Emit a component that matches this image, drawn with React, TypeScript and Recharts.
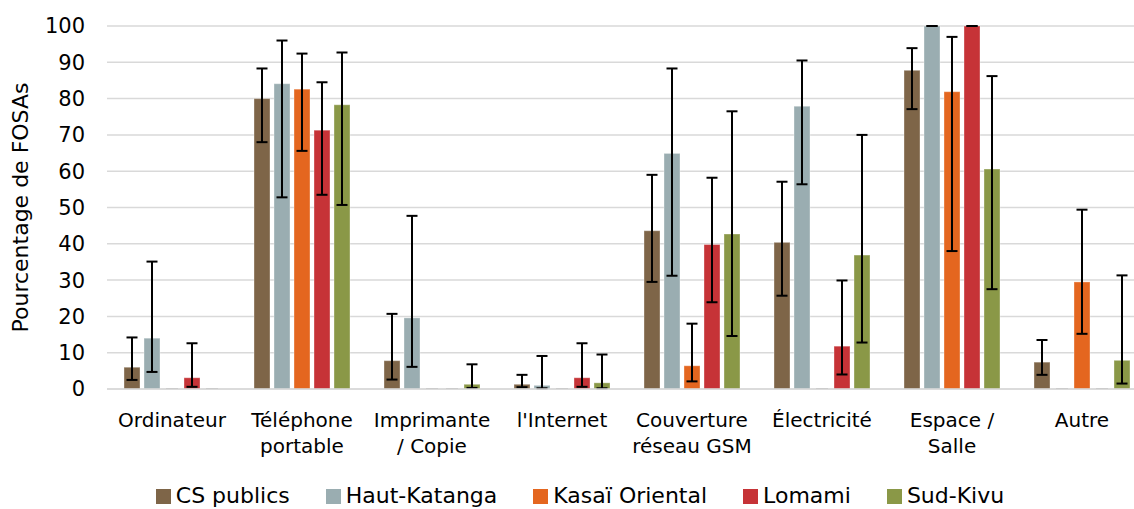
import React from "react";
import { BarChart, Bar, XAxis, YAxis, CartesianGrid, ErrorBar, Legend, Label } from "recharts";

const categories = [
  "Ordinateur",
  "Téléphone\nportable",
  "Imprimante\n/ Copie",
  "l'Internet",
  "Couverture\nréseau GSM",
  "Électricité",
  "Espace /\nSalle",
  "Autre",
];

const seriesNames = ["CS publics", "Haut-Katanga", "Kasaï Oriental", "Lomami", "Sud-Kivu"];
const seriesColors = ["#7E6548", "#9AADB1", "#E4661F", "#C63337", "#8A9847"];

// values (%)
const csPublics = [6.0, 80.0, 7.8, 1.3, 43.6, 40.4, 87.8, 7.4];
const hautKatanga = [14.0, 84.1, 19.6, 1.0, 64.9, 77.9, 100, 0];
const kasaiOriental = [0, 82.6, 0, 0, 6.4, 0, 81.9, 29.5];
const lomami = [3.1, 71.3, 0, 3.1, 39.8, 11.8, 100, 0];
const sudKivu = [0, 78.3, 1.3, 1.7, 42.7, 36.9, 60.6, 7.9];

// lower / upper bounds of confidence intervals (null = none)
const csPublicsLow = [2.5, 68.0, 2.6, 0.5, 29.5, 25.7, 77.1, 3.9];
const csPublicsHigh = [14.2, 88.3, 20.7, 3.9, 59.0, 57.1, 93.9, 13.5];
const hautKatangaLow = [4.7, 52.8, 6.1, 0.2, 31.2, 56.4, 100, null];
const hautKatangaHigh = [35.1, 96.0, 47.7, 9.1, 88.3, 90.5, 100, null];
const kasaiOrientalLow = [null, 65.6, null, null, 2.1, null, 38.0, 15.2];
const kasaiOrientalHigh = [null, 92.4, null, null, 18.0, null, 97.0, 49.4];
const lomamiLow = [0.6, 53.5, null, 0.6, 23.9, 4.0, 100, null];
const lomamiHigh = [12.6, 84.5, null, 12.6, 58.2, 29.9, 100, null];
const sudKivuLow = [null, 50.7, 0.3, 0.2, 14.6, 12.8, 27.5, 1.5];
const sudKivuHigh = [null, 92.7, 6.8, 9.5, 76.5, 70.0, 86.2, 31.3];

const yTicks = [0, 10, 20, 30, 40, 50, 60, 70, 80, 90, 100];

const seriesValues = [csPublics, hautKatanga, kasaiOriental, lomami, sudKivu];
const seriesLows = [csPublicsLow, hautKatangaLow, kasaiOrientalLow, lomamiLow, sudKivuLow];
const seriesHighs = [csPublicsHigh, hautKatangaHigh, kasaiOrientalHigh, lomamiHigh, sudKivuHigh];

const data = categories.map((cat, i) => {
  const row: any = { cat };
  seriesValues.forEach((vals, s) => {
    const v = vals[i];
    row[`s${s}`] = v;
    const lo = seriesLows[s][i];
    const hi = seriesHighs[s][i];
    row[`e${s}`] = lo == null || hi == null ? null : [Math.max(0, v - lo), Math.max(0, hi - v)];
  });
  return row;
});

const FONT = "'DejaVu Sans', sans-serif";

const W = 1160;
const H = 519;

const CategoryTick = (props: any) => {
  const { x, y, payload } = props;
  const lines = String(payload.value).split("\n");
  return (
    <text x={x} y={y} textAnchor="middle" fontFamily={FONT} fontSize={20} fill="#000">
      {lines.map((l, i) => (
        <tspan key={i} x={x} dy={i === 0 ? 37.5 : 26.5}>
          {l}
        </tspan>
      ))}
    </text>
  );
};

const BarShape = (props: any) => {
  const { x, y, width, height, fill } = props;
  if (!height || height <= 0.01) {
    return <line x1={x + 2} x2={x + width - 2} y1={y - 0.5} y2={y - 0.5} stroke="#A6A6A6" strokeWidth={1} />;
  }
  return (
    <rect x={x} y={y} width={width} height={height} fill={fill} stroke="rgba(255,255,255,0.35)" strokeWidth={1} />
  );
};

const LegendContent = () => (
  <div
    style={{
      height: 30,
      width: W,
      display: "flex",
      justifyContent: "center",
      alignItems: "flex-start",
      fontFamily: FONT,
      fontSize: 22,
      lineHeight: "22px",
      color: "#000",
    }}
  >
    {seriesNames.map((n, i) => (
      <div
        key={n}
        style={{
          display: "flex",
          alignItems: "flex-start",
          position: "relative",
          top: -4,
          marginRight: i < seriesNames.length - 1 ? 36 : 0,
        }}
      >
        <span style={{ display: "inline-block", width: 15, height: 15, background: seriesColors[i], marginTop: 4, marginRight: 5 }} />
        <span style={{ whiteSpace: "nowrap" }}>{n}</span>
      </div>
    ))}
  </div>
);

export default function App() {
  return (
    <div style={{ position: "absolute", left: 0, top: 0, width: 1134, height: 509, overflow: "hidden", background: "#fff" }}>
      <BarChart
        width={W}
        height={H}
        data={data}
        margin={{ top: 26, right: 13, bottom: 0, left: 0 }}
        barCategoryGap={17}
        barGap={4}
      >
        <CartesianGrid vertical={false} stroke="#D9D9D9" strokeWidth={1.5} />
        <XAxis
          dataKey="cat"
          interval={0}
          height={100}
          tickLine={false}
          axisLine={{ stroke: "#D9D9D9", strokeWidth: 1.5 }}
          tickSize={0}
          tickMargin={0}
          tick={<CategoryTick />}
        />
        <YAxis
          domain={[0, 100]}
          ticks={yTicks}
          width={107}
          axisLine={false}
          tickLine={false}
          tickSize={0}
          tickMargin={22}
          interval={0}
          tick={{ fontFamily: FONT, fontSize: 21, fill: "#000" }}
        >
          <Label
            value="Pourcentage de FOSAs"
            angle={-90}
            position="insideLeft"
            offset={20}
            style={{ fontFamily: FONT, fontSize: 22, fill: "#000", textAnchor: "middle" }}
          />
        </YAxis>
        <Legend verticalAlign="bottom" content={<LegendContent />} wrapperStyle={{ left: 0, width: W }} />
        {seriesNames.map((n, s) => (
          <Bar key={n} dataKey={`s${s}`} name={n} fill={seriesColors[s]} isAnimationActive={false} shape={<BarShape />}>
            <ErrorBar dataKey={`e${s}`} width={5.5} stroke="#000" strokeWidth={2} direction="y" />
          </Bar>
        ))}
      </BarChart>
    </div>
  );
}
